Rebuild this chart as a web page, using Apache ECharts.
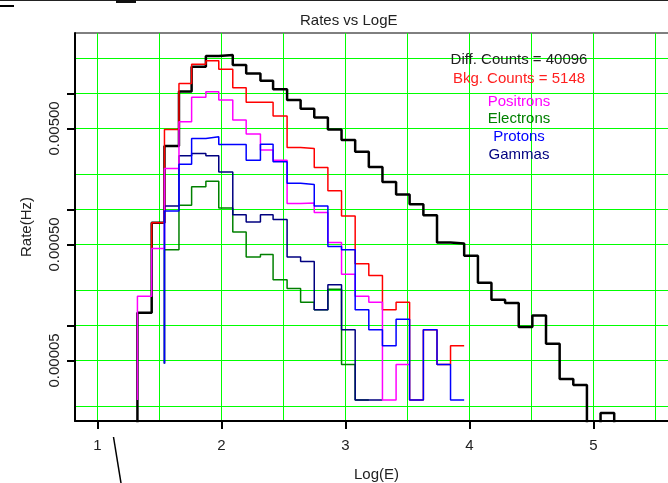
<!DOCTYPE html>
<html><head><meta charset="utf-8">
<script src="https://cdn.jsdelivr.net/npm/echarts@6/dist/echarts.min.js"></script>
<style>html,body{margin:0;padding:0;background:#fff}#c{width:668px;height:483px}</style>
</head><body><div id="c"></div>
<script>
// ---- data ----
const binEdges = [1.322,1.437,1.540,1.657,1.759,1.874,1.978,2.091,2.199,2.314,2.416,2.529,2.638,2.748,2.858,2.968,3.078,3.188,3.298,3.408,3.517,3.628,3.738,3.847,3.957,4.068,4.177,4.287,4.397,4.507,4.617,4.727,4.837,4.947,5.057,5.167];

// Diff counts (total), first bin 0
const diffStart = 0;
const diffRates = [1.29e-4,7.7e-4,3.52e-3,1.04e-2,1.70e-2,2.11e-2,2.15e-2,1.76e-2,1.49e-2,1.29e-2,1.09e-2,8.8e-3,7.4e-3,6.2e-3,4.9e-3,3.97e-3,3.14e-3,2.33e-3,1.73e-3,1.35e-3,1.11e-3,8.9e-4,5.2e-4,5.1e-4,4.0e-4,2.34e-4,1.67e-4,1.56e-4,9.7e-5,1.22e-4,6.95e-5,3.46e-5,3.07e-5,0,1.76e-5];
// Background counts, first bin 1
const bkgStart = 1;
const bkgRates = [7.7e-4,4.9e-3,1.22e-2,1.79e-2,1.92e-2,1.62e-2,1.12e-2,8.4e-3,8.4e-3,6.4e-3,3.43e-3,3.35e-3,2.30e-3,1.45e-3,8.8e-4,3.41e-4,2.70e-4,1.37e-4,1.59e-4,2.28e-5,9.2e-5,4.6e-5,6.7e-5];
// Positrons, first bin 0
const posStart = 0;
const posRates = [1.79e-4,4.6e-4,2.26e-3,5.71e-3,9.27e-3,1.036e-2,8.8e-3,5.9e-3,4.47e-3,3.25e-3,2.66e-3,1.125e-3,1.14e-3,9.4e-4,5.2e-4,2.76e-4,1.79e-4,1.59e-4,2.28e-5,4.6e-5];
// Electrons, first bin 2
const eleStart = 2;
const eleRates = [4.5e-4,1.09e-3,1.57e-3,1.75e-3,1.03e-3,6.4e-4,3.9e-4,4.1e-4,2.48e-4,2.08e-4,1.59e-4,1.37e-4,2.05e-4,4.6e-5,2.28e-5];
// Protons, first bin 2
const proStart = 2;
const proRates = [9.7e-4,2.46e-3,4.1e-3,4.23e-3,3.64e-3,3.64e-3,2.66e-3,3.66e-3,2.58e-3,1.68e-3,1.64e-3,1.07e-3,4.8e-4,4.5e-4,1.37e-4,9.2e-5,6.7e-5,1.13e-4,2.28e-5,9.2e-5,4.6e-5,2.28e-5];
// Gammas, first bin 2
const gamStart = 2;
const gamRates = [1.07e-3,2.9e-3,3.04e-3,2.9e-3,2.11e-3,9.0e-4,7.8e-4,9.0e-4,8.2e-4,3.9e-4,3.57e-4,1.37e-4,2.25e-4,9.2e-5,2.28e-5,2.28e-5];
// level each trace rises from at its first edge
const diffRise = 0, bkgRise = 4.6e-4, posRise = 2.28e-5, eleRise = 4.7e-5, proRise = 4.7e-5, gamRise = 4.7e-5;

const seriesNames = ['Diff. Counts','Bkg. Counts','Positrons','Electrons','Protons','Gammas'];
const noteTexts = ['Diff. Counts = 40096','Bkg. Counts = 5148','Positrons','Electrons','Protons','Gammas'];

const xTickLabels = [1,2,3,4,5];
const xGridValues = [1,1.5,2,2.5,3,3.5,4,4.5,5,5.5];
const yTickValues = [0.00005,0.0001,0.0005,0.001,0.005,0.01];
const yTickLabels = [0.00005,0.0005,0.005];
const yGridValues = [0.00002,0.00005,0.0001,0.0002,0.0005,0.001,0.002,0.005,0.01,0.02];

// ---- chart ----
// axis extents chosen so grid lines fall on pixel centres
const X_MIN = 0.818548, X_MAX = 5.681452;
const Y_MIN = Math.pow(10, -4.823276), Y_MAX = Math.pow(10, -1.478448);
const BELOW = Y_MIN / 10; // empty bins fall to the axis floor (clipped)
const FONT = '"Liberation Sans", Arial, sans-serif';
const colors = ['#000000','#ff0000','#ff00ff','#008000','#0000ff','#000080'];
const noteColors = ['#222222','#ff2020','#ff00ff','#008000','#0000ff','#000080'];

function stepPoints(start, values, rise, dropAtEnd) {
  const pts = [[binEdges[start], rise]];
  values.forEach((v, i) => pts.push([binEdges[start + i], v]));
  const endEdge = binEdges[start + values.length];
  pts.push([endEdge, values[values.length - 1]]);
  if (dropAtEnd) pts.push([endEdge, 0]);
  return pts.map(p => [p[0], p[1] > 0 ? p[1] : BELOW]);
}

const traces = [
  stepPoints(diffStart, diffRates, diffRise, true),
  stepPoints(bkgStart, bkgRates, bkgRise, false),
  stepPoints(eleStart, eleRates, eleRise, false),
  stepPoints(gamStart, gamRates, gamRise, false),
  stepPoints(posStart, posRates, posRise, false),
  stepPoints(proStart, proRates, proRise, false)
];
const order = [0,1,3,5,2,4]; // index into seriesNames/colors for each trace

const chart = echarts.init(document.getElementById('c'), null, {renderer: 'canvas'});
chart.setOption({
  animation: false,
  backgroundColor: '#ffffff',
  title: {
    text: 'Rates vs LogE', left: 295, top: 8,
    textStyle: {fontFamily: FONT, fontSize: 15, fontWeight: 'normal', color: '#222'}
  },
  grid: {left: 75, top: 33, width: 603, height: 388, show: true, borderColor: '#000', borderWidth: 1,
         backgroundColor: 'transparent', containLabel: false, outerBoundsMode: 'none'},
  xAxis: [
    {
      type: 'value', min: X_MIN, max: X_MAX, position: 'bottom', z: 3,
      name: 'Log(E)', nameLocation: 'middle', nameGap: 46,
      nameTextStyle: {fontFamily: FONT, fontSize: 15, color: '#222'},
      axisLine: {show: true, onZero: false, lineStyle: {color: '#000', width: 2}},
      axisTick: {show: true, length: 8, customValues: xTickLabels, lineStyle: {color: '#000', width: 2}},
      axisLabel: {show: true, customValues: xTickLabels, margin: 17, fontFamily: FONT, fontSize: 15, color: '#222',
                  formatter: v => String(Math.round(v))},
      splitLine: {show: false}
    },
    {
      type: 'value', min: X_MIN, max: X_MAX, position: 'bottom', z: 0,
      axisLine: {show: false}, axisLabel: {show: false},
      axisTick: {show: false, customValues: xGridValues},
      splitLine: {show: true, lineStyle: {color: '#00ff00', width: 1, type: 'solid'}}
    }
  ],
  yAxis: [
    {
      type: 'log', logBase: 10, min: Y_MIN, max: Y_MAX, position: 'left', z: 3,
      name: 'Rate(Hz)', nameLocation: 'middle', nameGap: 41,
      nameTextStyle: {fontFamily: FONT, fontSize: 15, color: '#222'},
      axisLine: {show: true, onZero: false, lineStyle: {color: '#000', width: 2}},
      axisTick: {show: true, length: 8, customValues: yTickValues, lineStyle: {color: '#000', width: 2}},
      axisLabel: {show: true, customValues: yTickLabels, rotate: 90, margin: 13, fontFamily: FONT, fontSize: 15, color: '#222',
                  formatter: v => Number(v).toFixed(5)},
      splitLine: {show: false}
    },
    {
      type: 'log', logBase: 10, min: Y_MIN, max: Y_MAX, position: 'left', z: 0,
      axisLine: {show: false}, axisLabel: {show: false},
      axisTick: {show: false, customValues: yGridValues},
      splitLine: {show: true, lineStyle: {color: '#00ff00', width: 1, type: 'solid'}}
    }
  ],
  series: traces.map((pts, k) => {
    const idx = order[k];
    return {
      name: seriesNames[idx], type: 'line', step: 'end', data: pts,
      xAxisIndex: 0, yAxisIndex: 0, symbol: 'none', clip: true, z: 2 + k,
      lineStyle: {color: colors[idx], width: idx === 0 ? 2.5 : 1.5},
      emphasis: {disabled: true}
    };
  }),
  graphic: noteTexts.map((t, i) => ({
    type: 'text', x: 519, y: [60, 79, 101.7, 119.3, 137.3, 155][i], z: 50,
    style: {text: t, fill: noteColors[i], font: '15px ' + FONT, align: 'center', verticalAlign: 'middle'}
  })).concat([
    {type: 'line', z: 60, shape: {x1: 113.5, y1: 437, x2: 121, y2: 483}, style: {stroke: '#000', lineWidth: 1.5}},
    {type: 'line', z: 60, shape: {x1: 0, y1: 0.5, x2: 668, y2: 0.5}, style: {stroke: '#222', lineWidth: 1}},
    {type: 'rect', z: 60, shape: {x: 0, y: 5, width: 14, height: 2}, style: {fill: '#000'}},
    {type: 'rect', z: 60, shape: {x: 116, y: 0, width: 20, height: 3}, style: {fill: '#111'}}
  ])
});
</script></body></html>
